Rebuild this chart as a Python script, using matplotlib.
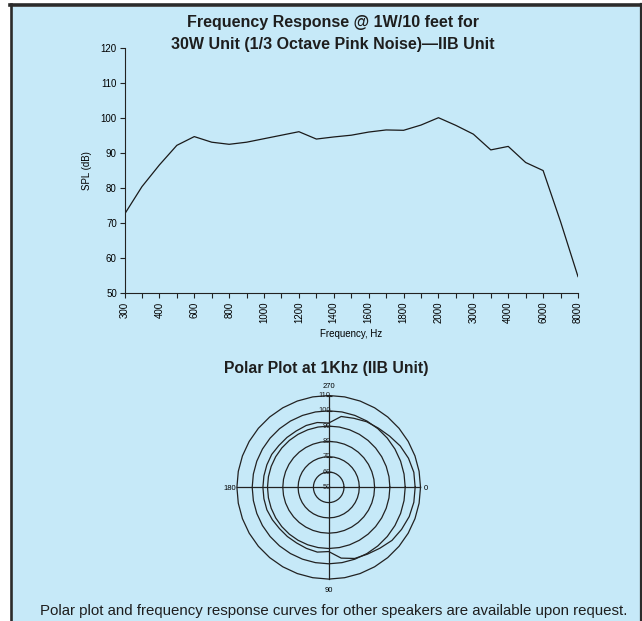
import matplotlib
matplotlib.use("Agg")
import matplotlib.pyplot as plt
import numpy as np
from matplotlib.patches import Rectangle
from matplotlib.lines import Line2D

# Frequency response data (equally spaced categories)
freqs = [300, 350, 400, 500, 600, 700, 800, 900, 1000, 1100, 1200, 1300, 1400,
         1500, 1600, 1700, 1800, 1900, 2000, 2500, 3000, 3500, 4000, 5000,
         6000, 7000, 8000]
spl = [72.4, 80.3, 86.5, 92.1, 94.6, 93.0, 92.4, 93.0, 94.0, 95.0, 96.0, 93.9,
       94.5, 95.0, 95.9, 96.5, 96.4, 97.9, 100.0, 97.8, 95.3, 90.8, 91.8, 87.2,
       84.9, 70.3, 54.6]
y_ticks = [50, 60, 70, 80, 90, 100, 110, 120]

# Polar plot data, degrees clockwise from the right
polar_deg = list(range(0, 360, 10))
polar_db = [106.5, 106.5, 106.0, 105.0, 104.0, 102.0, 100.5, 99.5, 97.0, 92.0,
            93.0, 92.5, 92.0, 92.0, 92.0, 92.5, 93.0, 93.0, 93.0, 93.0, 93.0,
            93.0, 92.5, 92.5, 92.5, 93.0, 93.0, 92.0, 97.0, 98.0, 99.5, 100.5,
            102.0, 104.0, 105.5, 106.5]
rings = [60, 70, 80, 90, 100, 110]
ring_labels = [50, 60, 70, 80, 90, 100, 110]

W, H = 642, 621
BLUE = '#c6e9f8'
DARK = '#2b2b2b'
INK = '#222222'
plain = ['Liberation Sans', 'DejaVu Sans']

fig = plt.figure(figsize=(W / 100, H / 100), dpi=100)
fig.patch.set_facecolor('white')

def fx(px):
    return px / W

def fy(py):
    return 1 - py / H

# blue panel with dark frame (behind the axes)
fig.patches.append(Rectangle((fx(12), 0), fx(628), fy(6.5), transform=fig.transFigure,
                             facecolor=BLUE, edgecolor='none', zorder=-5))
fig.lines.append(Line2D([fx(10), 1], [fy(5), fy(5)], transform=fig.transFigure,
                        color=DARK, lw=2.6, zorder=-4))
fig.lines.append(Line2D([fx(11.3), fx(11.3)], [0, fy(4)], transform=fig.transFigure,
                        color=DARK, lw=1.9, zorder=-4))
fig.lines.append(Line2D([fx(640.5), fx(640.5)], [0, fy(4)], transform=fig.transFigure,
                        color=DARK, lw=1.6, zorder=-4))

# ---- frequency response ----
ax = fig.add_axes([fx(124.5), fy(292.7), fx(578 - 124.5), (292.7 - 47.7) / H])
ax.set_facecolor('none')
x = np.arange(len(freqs))
ax.plot(x, spl, color='#1a1a1a', lw=0.9)
ax.set_xlim(0, len(freqs) - 1)
ax.set_ylim(50, 120)
ax.set_yticks(y_ticks)
ax.set_xticks(x)
ax.set_xticklabels([str(f) if i % 2 == 0 else '' for i, f in enumerate(freqs)],
                   rotation=90, family=plain, fontsize=7)
for lab in ax.get_yticklabels():
    lab.set_family(plain)
    lab.set_fontsize(7)
ax.tick_params(axis='both', length=3.5, width=0.8, color=INK, pad=2)
ax.tick_params(axis='x', pad=3)
for s in ['top', 'right']:
    ax.spines[s].set_visible(False)
for s in ['left', 'bottom']:
    ax.spines[s].set_linewidth(0.8)
    ax.spines[s].set_color(INK)
ax.set_ylabel('SPL (dB)', family=plain, fontsize=7, labelpad=6)
ax.set_xlabel('Frequency, Hz', family=plain, fontsize=7, labelpad=4)

fig.text(fx(333), fy(23), 'Frequency Response @ 1W/10 feet for', ha='center',
         va='center', fontsize=11.5, fontweight='bold', family=plain, color='#1e1e1e')
fig.text(fx(333), fy(45), '30W Unit (1/3 Octave Pink Noise)\u2014IIB Unit', ha='center',
         va='center', fontsize=11.5, fontweight='bold', family=plain, color='#1e1e1e')

# ---- polar plot ----
cx, cy, R = 328.7, 487.3, 91.8
pax = fig.add_axes([fx(cx - R), fy(cy + R), fx(2 * R), 2 * R / H], projection='polar')
pax.set_facecolor('none')
pax.set_theta_zero_location('E')
pax.set_theta_direction(-1)
pax.set_ylim(50, 110)
pax.grid(False)
pax.spines['polar'].set_visible(False)
pax.set_xticks([])
pax.set_yticks([])

ring_theta = np.deg2rad(np.arange(0, 361, 10))
for r in rings:
    pax.plot(ring_theta, [r] * len(ring_theta), color=INK, lw=0.9, clip_on=False)
for t in [0, 90, 180, 270]:
    pax.plot([np.deg2rad(t)] * 2, [50, 110], color=INK, lw=0.9, clip_on=False)
pax.plot(np.deg2rad(polar_deg + [360]), polar_db + polar_db[:1], color=INK, lw=0.9,
         clip_on=False)

top = np.deg2rad(270)
pax.plot([top] * len(rings), rings, ls='none', marker='_', ms=5, mew=0.8, color=INK,
         clip_on=False)
for r in ring_labels:
    pax.annotate(str(r), (top, r), xytext=(1.5, 0), textcoords='offset points',
                 ha='right', va='center', fontsize=5.5, family=plain, color=INK)

fig.text(fx(328.5), fy(386), '270', ha='center', va='center', fontsize=5.5, family=plain)
fig.text(fx(328.5), fy(590), '90', ha='center', va='center', fontsize=5.5, family=plain)
fig.text(fx(236), fy(488), '180', ha='right', va='center', fontsize=5.5, family=plain)
fig.text(fx(424), fy(488), '0', ha='left', va='center', fontsize=5.5, family=plain)

fig.text(fx(326), fy(368), 'Polar Plot at 1Khz (IIB Unit)', ha='center', va='center',
         fontsize=11.3, fontweight='bold', family=plain, color='#1e1e1e')

fig.text(fx(334), fy(611), 'Polar plot and frequency response curves for other speakers '
         'are available upon request.', ha='center', va='center', fontsize=10.8,
         family=plain, color='#1e1e1e')

fig.savefig('out.png', dpi=100)
